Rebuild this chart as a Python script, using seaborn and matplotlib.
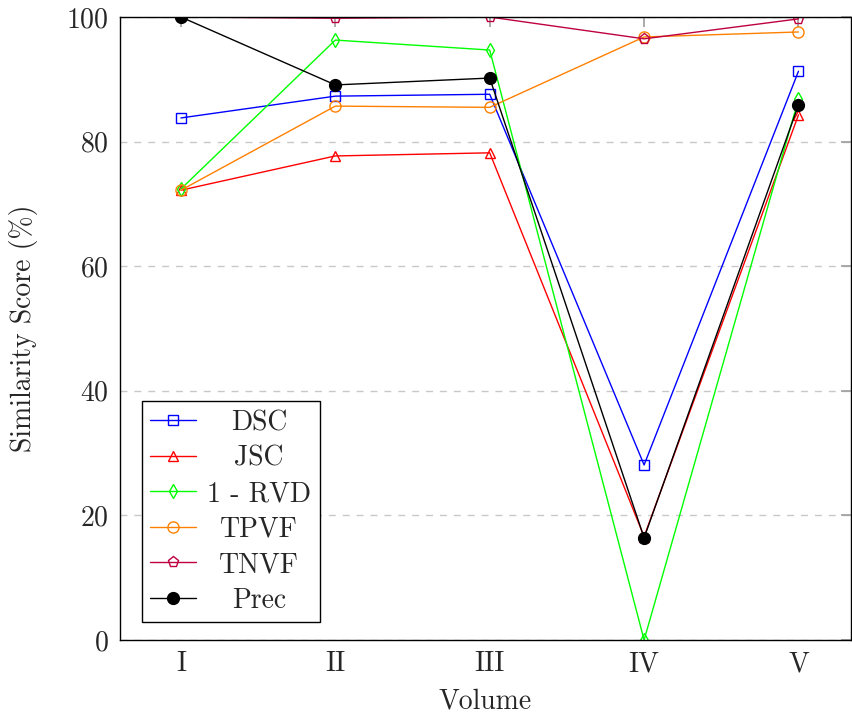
import matplotlib
matplotlib.use("Agg")
import matplotlib.pyplot as plt
from matplotlib.transforms import Affine2D
import pandas as pd
import seaborn as sns

volumes = ["I", "II", "III", "IV", "V"]
dsc = [83.8, 87.3, 87.6, 28.1, 91.3]
jsc = [72.2, 77.7, 78.2, 16.6, 84.3]
rvd = [72.4, 96.3, 94.7, 0.0, 86.8]
tpvf = [72.2, 85.7, 85.5, 96.8, 97.6]
tnvf = [100.0, 99.8, 100.0, 96.5, 99.7]
prec = [100.0, 89.1, 90.2, 16.4, 85.9]

series_names = ["DSC", "JSC", "1 - RVD", "TPVF", "TNVF", "Prec"]
series_values = [dsc, jsc, rvd, tpvf, tnvf, prec]

# long-form table for seaborn
rows = []
for name, vals in zip(series_names, series_values):
    for i, v in enumerate(vals):
        rows.append({"series": name, "x": i, "score": v})
df = pd.DataFrame(rows)

styles = {
    "DSC": dict(color="#0000ff", marker="s", mfc="none", ms=7.5),
    "JSC": dict(color="#ff0000", marker="^", mfc="none", ms=7),
    "1 - RVD": dict(color="#00ff00", marker="d", mfc="none", ms=7.5),
    "TPVF": dict(color="#ff8000", marker="o", mfc="none", ms=8),
    "TNVF": dict(color="#bf0040", marker="p", mfc="none", ms=8),
    "Prec": dict(color="#000000", marker="o", mfc="#000000", ms=8.5),
}

sns.set_theme(style="white")
plt.rcParams["font.family"] = ["cmr10", "DejaVu Serif"]
plt.rcParams["axes.formatter.use_mathtext"] = True
plt.rcParams["mathtext.fontset"] = "cm"

fig = plt.figure(figsize=(8.52, 7.15), dpi=100)
ax = fig.add_axes([0.1408, 0.1049, 0.858, 0.8713])

for name in series_names:
    st = styles[name]
    sns.lineplot(data=df[df["series"] == name], x="x", y="score", ax=ax,
                 color=st["color"], marker=st["marker"], markersize=st["ms"],
                 markerfacecolor=st["mfc"], markeredgecolor=st["color"],
                 markeredgewidth=1.0, linewidth=1.0, label=name)

ax.set_xlim(-0.395, 4.34)
ax.set_ylim(0, 100)
ax.set_xticks(range(len(volumes)))
ax.set_xticklabels(volumes)
ax.set_yticks([0, 20, 40, 60, 80, 100])
ax.yaxis.grid(True, linestyle=(0, (5, 5)), color="#c8c8c8", linewidth=1.0)
ax.set_axisbelow(True)
ax.tick_params(axis="both", direction="in", length=7, color="#a0a0a0",
               labelsize=20, top=True, right=True, pad=8)
for s in ax.spines.values():
    s.set_color("black")
    s.set_linewidth(1.0)

ax.set_xlabel("Volume", fontsize=20, labelpad=8)
ax.set_ylabel("Similarity Score (%)", fontsize=20, labelpad=20)

leg = ax.legend(loc="lower left", bbox_to_anchor=(0.03, 0.029), fontsize=20,
                frameon=True, fancybox=False, edgecolor="black", framealpha=1,
                handlelength=1.65, handletextpad=0.4, borderpad=0.3,
                labelspacing=0.33, borderaxespad=0)
leg.get_frame().set_linewidth(1.0)

# centre the legend labels like pgfplots does
fig.canvas.draw()
widths = [t.get_window_extent().width for t in leg.get_texts()]
wmax = max(widths)
for t, w in zip(leg.get_texts(), widths):
    t.set_transform(t.get_transform() + Affine2D().translate((wmax - w) / 2, 0))

fig.savefig("out.png", dpi=100)
